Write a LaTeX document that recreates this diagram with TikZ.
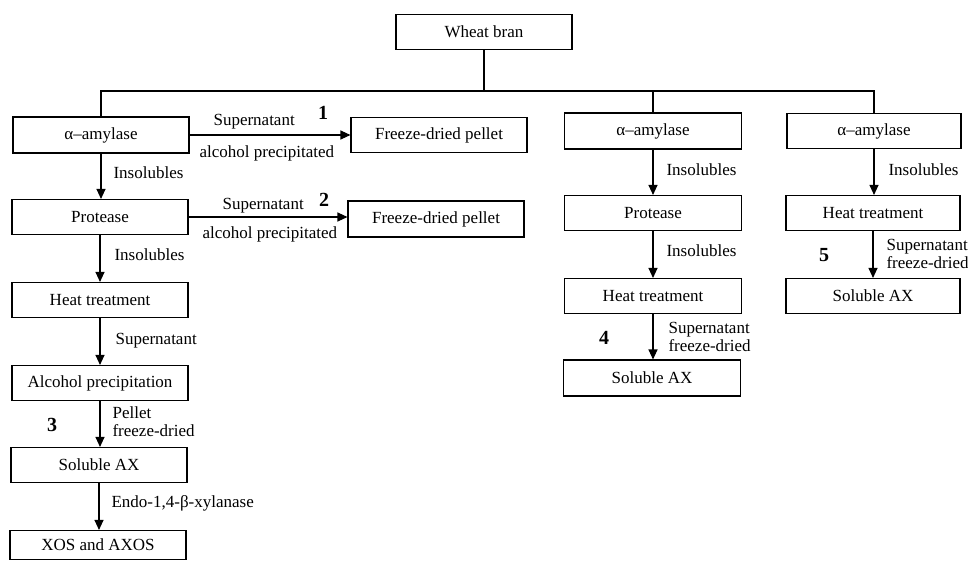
\documentclass[tikz,border=0pt]{standalone}
\usepackage{fontspec}
\setmainfont{Liberation Serif}
\usetikzlibrary{arrows.meta}
\tikzset{
  box/.style={draw,line width=1.1pt,minimum width=176pt,minimum height=35pt,inner sep=0pt,font=\fontsize{17}{18}\selectfont},
  lab/.style={inner sep=0pt,anchor=west,align=left,font=\fontsize{17}{18}\selectfont},
  num/.style={inner sep=0pt,font=\fontsize{20}{22}\selectfont\bfseries}
}
\begin{document}
\begin{tikzpicture}[x=1pt,y=-1pt,>={Triangle[length=10pt,width=9pt]},line width=1.1pt]
\useasboundingbox (0,0) rectangle (968,560);
\node[box] (wb) at (484,32) {Wheat bran};
\node[box,minimum height=36pt] (am1) at (101,135) {α–amylase}; \node[box] (fp1) at (439,135) {Freeze-dried pellet};
\node[box] (pr1) at (100,217) {Protease};                       \node[box,minimum height=36pt] (fp2) at (436,219) {Freeze-dried pellet};
\node[box] (ht1) at (100,300) {Heat treatment};
\node[box] (ap1) at (100,383) {Alcohol precipitation};
\node[box] (sx1) at (99,465) {Soluble AX};
\node[box,minimum height=29pt] (xos) at (98,545) {XOS and AXOS};
\node[box,minimum width=177pt,minimum height=36pt] (am2) at (653,131) {α–amylase};
\node[box,minimum width=177pt] (pr2) at (653,213) {Protease};
\node[box,minimum width=177pt] (ht2) at (653,296) {Heat treatment};
\node[box,minimum width=177pt,minimum height=36pt] (sx2) at (652,378) {Soluble AX};
\node[box,minimum width=174pt] (am3) at (874,131) {α–amylase};
\node[box,minimum width=174pt] (ht3) at (873,213) {Heat treatment};
\node[box,minimum width=174pt] (sx3) at (873,296) {Soluble AX};
\coordinate (jn) at (484,91);
\draw (wb.south) -- (jn);
\draw (am1.north) |- (am3.north |- jn) -- (am3.north);
\draw (am2.north) -- (am2.north |- jn);
\foreach \A/\B in {am1/pr1,pr1/ht1,ht1/ap1,ap1/sx1,sx1/xos,am2/pr2,pr2/ht2,ht2/sx2,am3/ht3,ht3/sx3}{\draw[->] (\A.south) -- (\A.south |- \B.north);}
\foreach \A/\B in {am1/fp1,pr1/fp2}{\draw[->] (\A.east) -- (\A.east -| \B.west);}
\node[lab] (s1) at (213,122) {Supernatant};   \node[lab] (c1) at (199,153) {alcohol precipitated};
\node[lab] (s2) at (222,206) {Supernatant};   \node[lab] (c2) at (202,234) {alcohol precipitated};
\node[lab] (i1) at (113,173) {Insolubles};
\node[lab] (i2) at (114,255) {Insolubles};
\node[lab] (s3) at (115,341) {Supernatant};
\node[lab] (p3) at (112,422) {Pellet\\freeze-dried};
\node[lab] (en) at (111,503) {Endo-1,4-β-xylanase};
\node[lab] (i4) at (666,170) {Insolubles};
\node[lab] (i5) at (666,251) {Insolubles};
\node[lab] (s4) at (668,337) {Supernatant\\freeze-dried};
\node[lab] (i6) at (888,170) {Insolubles};
\node[lab] (s5) at (886,254) {Supernatant\\freeze-dried};
\node[num] (n1) at (323,113) {1};
\node[num] (n2) at (324,200) {2};
\node[num] (n3) at (52,425) {3};
\node[num] (n4) at (604,338) {4};
\node[num] (n5) at (824,255) {5};
\end{tikzpicture}
\end{document}
